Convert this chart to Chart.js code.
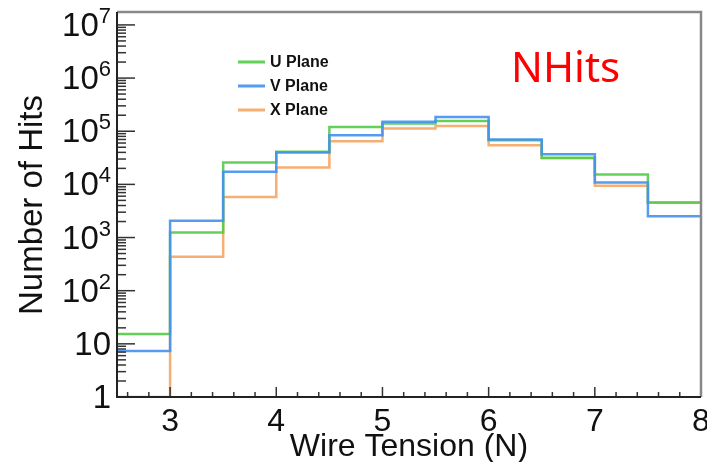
<!DOCTYPE html>
<html>
<head>
<meta charset="utf-8">
<script src="https://cdn.jsdelivr.net/npm/chart.js@4.4.1/dist/chart.umd.min.js"></script>
<style>
  html, body { margin: 0; padding: 0; background: #fff; }
  canvas { display: block; }
</style>
</head>
<body>
<canvas id="nhits" width="707" height="462"></canvas>
<script>
// bin edges of the wire tension histogram (N)
const edges = [2.5, 3, 3.5, 4, 4.5, 5, 5.5, 6, 6.5, 7, 7.5, 8];
// hits per bin
const uPlane = [15.3, 1250, 25900, 41200, 120000, 140000, 156000, 67600, 31700, 15300, 4570];
const vPlane = [7.3, 2060, 17200, 39800, 84000, 150000, 186000, 70000, 37000, 10900, 2520];
const xPlane = [1, 434, 5820, 20800, 65000, 112000, 126000, 54600, 31000, 9400, 4500];
const xTickLabels = [3, 4, 5, 6, 7, 8];
const yTickPowers = [0, 1, 2, 3, 4, 5, 6, 7];
const yMin = 1;
const yMax = 1.75e7;

const planeColors = {
  U: "rgba(82, 204, 70, 0.9)",
  V: "rgba(66, 145, 240, 0.9)",
  X: "rgba(245, 165, 100, 0.9)"
};

// bin contents -> step points; bin i starts at edge i, last bin closed at the last edge
function toSteps(vals) {
  return edges.map((e, i) => ({ x: e, y: vals[Math.min(i, vals.length - 1)] }));
}

const font = "'Liberation Sans', Arial, Helvetica, sans-serif";

const rootAxes = {
  id: "rootAxes",
  afterDatasetsDraw(chart) {
    const { ctx, chartArea: a, scales } = chart;
    const x = scales.x, y = scales.y;
    ctx.save();

    // ticks inside the frame
    ctx.strokeStyle = "#333";
    ctx.lineWidth = 1.5;
    for (let k = 13; k <= 40; k++) {
      const px = x.getPixelForValue(k / 5);
      const len = k % 5 === 0 ? 10 : 5;
      ctx.beginPath();
      ctx.moveTo(px, a.bottom);
      ctx.lineTo(px, a.bottom - len);
      ctx.stroke();
    }
    for (let d = 0; d <= 7; d++) {
      for (let m = 1; m <= 9; m++) {
        const v = m * Math.pow(10, d);
        if (v > yMax) break;
        const py = y.getPixelForValue(v);
        const len = m === 1 ? 18 : 9;
        ctx.beginPath();
        ctx.moveTo(a.left, py);
        ctx.lineTo(a.left + len, py);
        ctx.stroke();
      }
    }

    // frame
    ctx.strokeStyle = "#888";
    ctx.lineWidth = 2.5;
    ctx.beginPath();
    ctx.moveTo(a.left, a.top);
    ctx.lineTo(a.right, a.top);
    ctx.lineTo(a.right, a.bottom);
    ctx.stroke();
    ctx.strokeStyle = "#222";
    ctx.lineWidth = 2;
    ctx.beginPath();
    ctx.moveTo(a.left, a.top);
    ctx.lineTo(a.left, a.bottom);
    ctx.lineTo(a.right, a.bottom);
    ctx.stroke();

    // x tick labels
    ctx.fillStyle = "#111";
    ctx.font = "32px " + font;
    ctx.textAlign = "center";
    ctx.textBaseline = "alphabetic";
    xTickLabels.forEach(t => {
      ctx.fillText(String(t), x.getPixelForValue(t), 431);
    });

    // y tick labels, 10 with raised exponent
    ctx.textBaseline = "middle";
    ctx.textAlign = "right";
    const rightEdge = 111;
    yTickPowers.forEach(p => {
      const py = y.getPixelForValue(Math.pow(10, p)) + 2;
      if (p <= 1) {
        ctx.font = "33px " + font;
        ctx.fillText(p === 0 ? "1" : "10", rightEdge, py);
      } else {
        ctx.font = "22px " + font;
        const ew = ctx.measureText(String(p)).width;
        ctx.fillText(String(p), rightEdge, py - 10);
        ctx.font = "33px " + font;
        ctx.fillText("10", rightEdge - ew, py);
      }
    });

    // axis titles
    ctx.font = "32px " + font;
    ctx.textAlign = "center";
    ctx.textBaseline = "alphabetic";
    ctx.fillText("Wire Tension (N)", (a.left + a.right) / 2, 456);
    ctx.save();
    ctx.translate(42, 205);
    ctx.rotate(-Math.PI / 2);
    ctx.font = "33px " + font;
    ctx.fillText("Number of Hits", 0, 0);
    ctx.restore();

    // legend
    const rows = [["U Plane", planeColors.U, 62], ["V Plane", planeColors.V, 86], ["X Plane", planeColors.X, 110]];
    ctx.textAlign = "left";
    ctx.textBaseline = "middle";
    ctx.font = "bold 16px " + font;
    rows.forEach(([label, col, ly]) => {
      ctx.strokeStyle = col;
      ctx.lineWidth = 3;
      ctx.beginPath();
      ctx.moveTo(238, ly);
      ctx.lineTo(265, ly);
      ctx.stroke();
      ctx.fillStyle = "#111";
      ctx.fillText(label, 270, ly + 1);
    });

    // annotation
    ctx.fillStyle = "#ff0000";
    ctx.font = "42px 'Noto Sans', 'Open Sans', sans-serif";
    ctx.textBaseline = "alphabetic";
    ctx.fillText("NHits", 511, 82);

    ctx.restore();
  }
};

function hist(label, vals, color, order) {
  return {
    label: label,
    data: toSteps(vals),
    stepped: "before",
    borderColor: color,
    borderWidth: 2.5,
    pointRadius: 0,
    fill: false,
    order: order
  };
}

new Chart(document.getElementById("nhits"), {
  type: "line",
  data: {
    datasets: [
      hist("U Plane", uPlane, planeColors.U, 1),
      hist("V Plane", vPlane, planeColors.V, 0),
      hist("X Plane", xPlane, planeColors.X, 2)
    ]
  },
  options: {
    responsive: false,
    animation: false,
    layout: { padding: { left: 117, right: 6, top: 12, bottom: 65 } },
    scales: {
      x: {
        type: "linear",
        min: 2.5,
        max: 8,
        ticks: { display: false },
        grid: { display: false },
        border: { display: false },
        afterFit: s => { s.height = 0; }
      },
      y: {
        type: "logarithmic",
        min: yMin,
        max: yMax,
        ticks: { display: false },
        grid: { display: false },
        border: { display: false },
        afterFit: s => { s.width = 0; }
      }
    },
    plugins: {
      legend: { display: false },
      tooltip: { enabled: false }
    }
  },
  plugins: [rootAxes]
});
</script>
</body>
</html>
